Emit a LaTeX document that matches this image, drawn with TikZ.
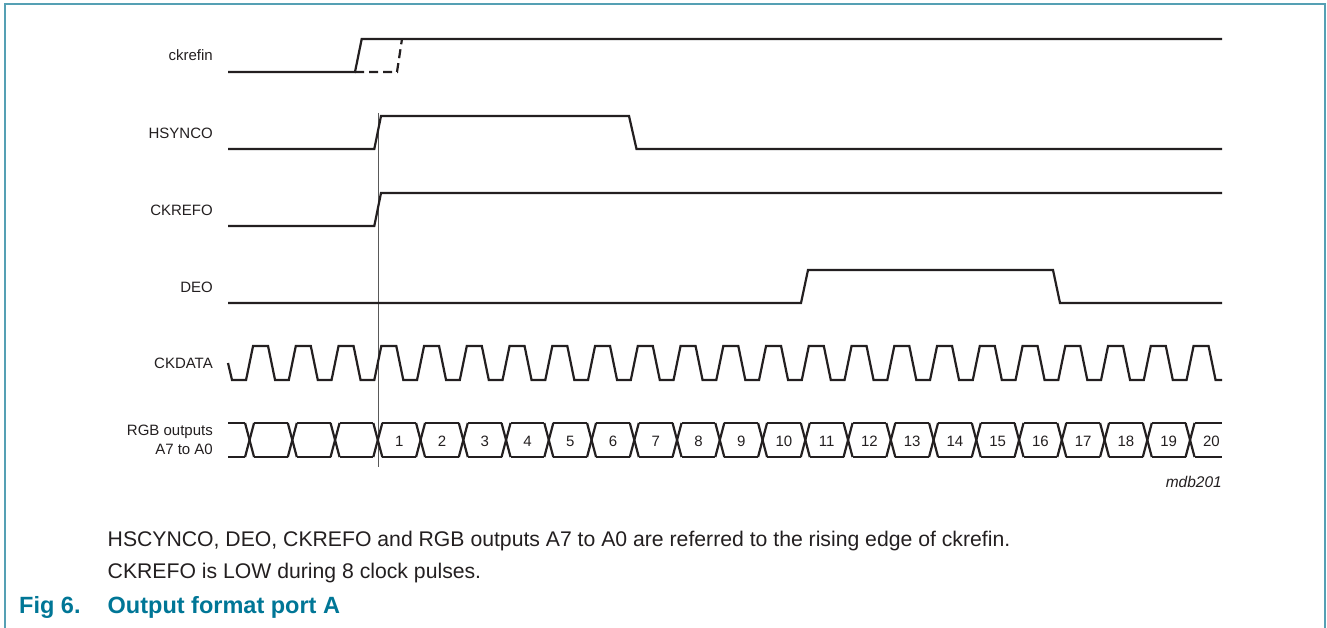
\documentclass[tikz,border=0pt]{standalone}
\usepackage{fontspec}
\setmainfont{Liberation Sans}
\definecolor{ink}{RGB}{35,31,32}
\definecolor{framecol}{RGB}{85,160,180}
\definecolor{figteal}{RGB}{0,118,150}
\begin{document}
\begin{tikzpicture}[x=1pt,y=-1pt,
  sig/.style={draw=ink,line width=2.2pt,line join=miter},
  dsig/.style={sig,dash pattern=on 9pt off 5pt},
  lbl/.style={anchor=east,font=\fontsize{15}{17}\selectfont,text=ink,inner sep=0pt},
  num/.style={font=\fontsize{15}{17}\selectfont,text=ink,inner sep=0pt},
  captext/.style={anchor=base west,font=\fontsize{21.2}{24}\selectfont,text=ink,inner sep=0pt},
  figcap/.style={anchor=base west,font=\fontsize{23.5}{26}\selectfont\bfseries,text=figteal,inner sep=0pt}]
\useasboundingbox (0,0) rectangle (1327,628);
% frame
\draw[framecol,line width=1.8pt] (5,628) -- (5,4) -- (1325,4) -- (1325,628);
\pgfmathsetmacro{\xo}{377.8}
\pgfmathsetmacro{\p}{42.75}
\pgfmathsetmacro{\h}{4.5}
% reference line
\draw[gray!70!black,line width=1pt] (378,113) -- (378,467);
% labels
\node[lbl] (l1) at (213,55) {ckrefin};
\node[lbl] (l2) at (213,133) {HSYNCO};
\node[lbl] (l3) at (213,210) {CKREFO};
\node[lbl] (l4) at (213,287) {DEO};
\node[lbl] (l5) at (213,363) {CKDATA};
\node[lbl,align=right] (l6) at (213,440) {RGB outputs\\[2pt]A7 to A0};
% ckrefin
\draw[sig] (228,72) -- (355,72) -- (361.7,39) -- (1222,39);
\draw[dsig] (355,72) -- (397,72) -- (402,39);
% HSYNCO
\draw[sig] (228,149) -- (374.3,149) -- (381,116) -- (629,116) -- (636.5,149) -- (1222,149);
% CKREFO
\draw[sig] (228,226) -- (374.3,226) -- (381,193) -- (1222,193);
% DEO
\draw[sig] (228,303) -- (801,303) -- (808,270) -- (1053,270) -- (1060,303) -- (1222,303);
% CKDATA
\draw[sig] (228,363) -- (232,380)
  foreach \k in {-3,...,19} {
    -- ({\xo+\k*\p-3.5},380) -- ({\xo+\k*\p+3.5},346)
    -- ({\xo+\k*\p+18.5},346) -- ({\xo+\k*\p+25.5},380) }
  -- (1222,380);
% RGB outputs
\draw[sig] (228,423) -- ({\xo-3*\p-\h},423);
\draw[sig] (228,457) -- ({\xo-3*\p-\h},457);
\foreach \k in {-3,...,19} {
  \draw[sig] ({\xo+\k*\p-\h},423) -- ({\xo+\k*\p+\h},457);
  \draw[sig] ({\xo+\k*\p-\h},457) -- ({\xo+\k*\p+\h},423);
}
\foreach \k in {-3,...,18} {
  \draw[sig] ({\xo+\k*\p+\h},423) -- ({\xo+(\k+1)*\p-\h},423);
  \draw[sig] ({\xo+\k*\p+\h},457) -- ({\xo+(\k+1)*\p-\h},457);
}
\draw[sig] ({\xo+19*\p+\h},423) -- (1222,423);
\draw[sig] ({\xo+19*\p+\h},457) -- (1222,457);
\foreach \n in {1,...,20} {
  \node[num] (n\n) at ({\xo+(\n-0.5)*\p},441) {\n};
}
\node[anchor=east,font=\fontsize{15.5}{18}\selectfont\itshape,text=ink,inner sep=0pt] (code) at (1222,482) {mdb201};
% captions
\node[captext] (c1) at (107.5,546) {HSCYNCO, DEO, CKREFO and RGB outputs A7 to A0 are referred to the rising edge of ckrefin.};
\node[captext] (c2) at (107.5,578) {CKREFO is LOW during 8 clock pulses.};
\node[figcap] (f1) at (19,613) {Fig 6.};
\node[figcap] (f2) at (107.5,613) {Output format port A};
\end{tikzpicture}
\end{document}
